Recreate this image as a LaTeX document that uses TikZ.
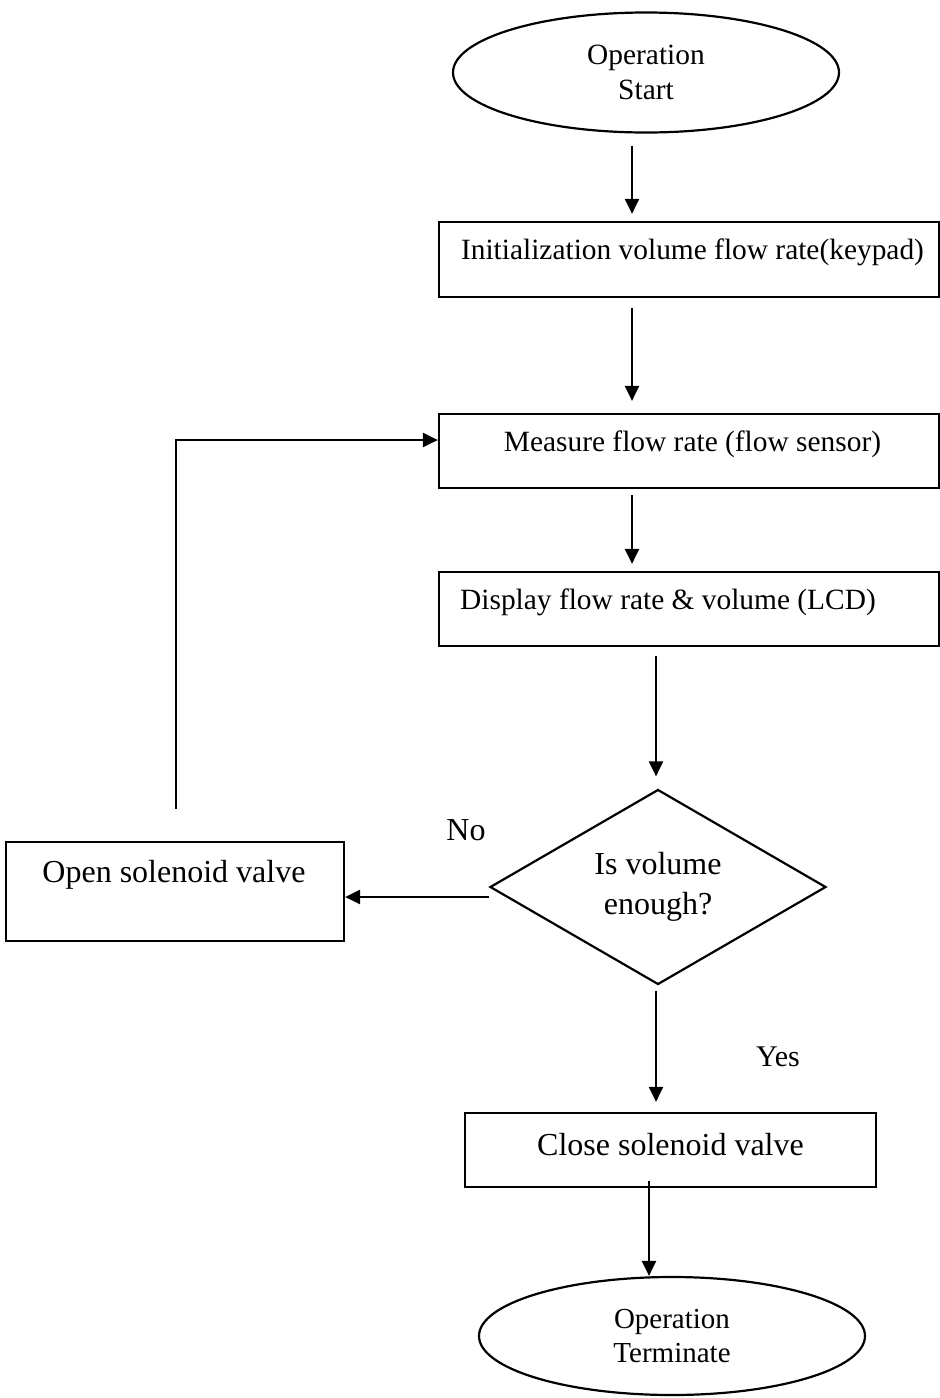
\documentclass[tikz,border=0pt]{standalone}
\usepackage{fontspec}
\setmainfont{Liberation Serif}
\usetikzlibrary{shapes.geometric,arrows.meta,calc}
\tikzset{
  box/.style={draw,line width=2.2pt,inner sep=0pt},
  oval/.style={draw,ellipse,line width=2.2pt,inner sep=0pt,align=center},
  decision/.style={draw,diamond,line width=2.2pt,inner sep=0pt,align=center},
  arr/.style={line width=2.4pt,-{Triangle[length=15pt,width=14pt]}},
  big/.style={font=\fontsize{29.4}{35}\selectfont},
  bigger/.style={font=\fontsize{32}{40}\selectfont},
}
\begin{document}
\begin{tikzpicture}[x=1pt,y=-1pt]
\useasboundingbox (0,0) rectangle (940,1398);
% nodes
\node[oval,big,minimum width=386,minimum height=120] (start) at (646,72.5) {Operation\\Start};
\node[box,minimum width=500,minimum height=75] (b1) at (689,259.5) {};
\node[big] (t1) at (692.5,252) {Initialization volume flow rate(keypad)};
\node[box,minimum width=500,minimum height=74] (b2) at (689,451) {};
\node[big] (t2) at (692.5,444) {Measure flow rate (flow sensor)};
\node[box,minimum width=500,minimum height=74] (b3) at (689,609) {};
\node[big] (t3) at (668,602) {Display flow rate \& volume (LCD)};
\node[decision,bigger,minimum width=336,minimum height=195,aspect=1.72] (dec) at (658,887) {Is volume\\enough?};
\node[box,minimum width=338,minimum height=99] (b4) at (175,891.5) {};
\node[bigger] (t4) at (174,875) {Open solenoid valve};
\node[box,minimum width=411,minimum height=74] (b5) at (670.5,1150) {};
\node[bigger] (t5) at (670.5,1145) {Close solenoid valve};
\node[oval,font=\fontsize{29}{34}\selectfont,minimum width=386,minimum height=118] (end) at (672,1336) {Operation\\Terminate};
\node[bigger] (no) at (466,830) {No};
\node[font=\fontsize{30}{36}\selectfont] (yes) at (778,1057) {Yes};
% helper coordinates
\coordinate (xa) at (632,0);
\coordinate (xb) at (656,0);
\coordinate (xc) at (649,0);
\coordinate (ny) at (0,897);
\coordinate (ly) at (0,440);
% connectors
\draw[arr,shorten <=12pt,shorten >=7pt] (start.south -| xa) -- (b1.north -| xa);
\draw[arr,shorten <=10pt,shorten >=12pt] (b1.south -| xa) -- (b2.north -| xa);
\draw[arr,shorten <=6pt,shorten >=7pt] (b2.south -| xa) -- (b3.north -| xa);
\draw[arr,shorten <=9pt,shorten >=12pt] (b3.south -| xb) -- (dec.north -| xb);
\draw[arr] (dec.west |- ny) -- (b4.east |- ny);
\draw[arr,shorten <=5pt,shorten >=10pt] (dec.south -| xb) -- (b5.north -| xb);
\draw[arr,shorten <=-7pt] (b5.south -| xc) -- (end.north -| xc);
\draw[arr] ($(b4.north)+(1,-32)$) |- (b2.west |- ly);
\end{tikzpicture}
\end{document}
